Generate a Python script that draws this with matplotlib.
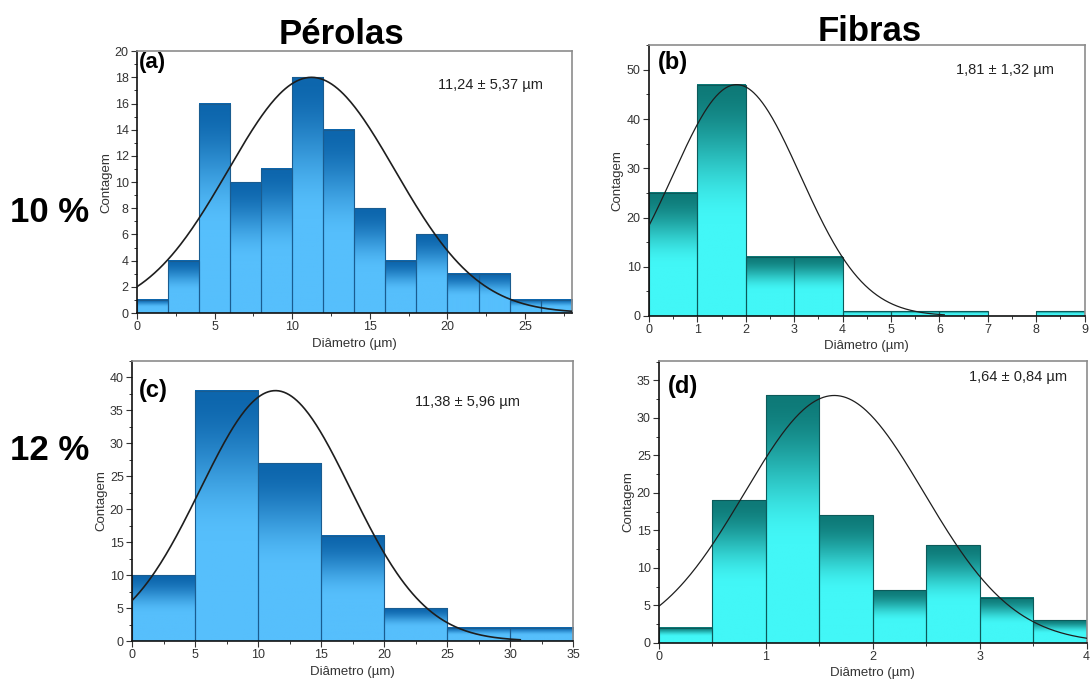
import numpy as np
import matplotlib
matplotlib.use("Agg")
import matplotlib.pyplot as plt
from matplotlib.ticker import MultipleLocator
from matplotlib.colors import to_rgb

plt.rcParams['font.family'] = ['Liberation Sans', 'DejaVu Sans']

# histogram data (diameter bins in um, counts)
edges_a = [0, 2, 4, 6, 8, 10, 12, 14, 16, 18, 20, 22, 24, 26, 28]
counts_a = [1, 4, 16, 10, 11, 18, 14, 8, 4, 6, 3, 3, 1, 1]
mean_a, sd_a = 11.24, 5.37

edges_b = [0, 1, 2, 3, 4, 5, 6, 7, 8, 9]
counts_b = [25, 47, 12, 12, 1, 1, 1, 0, 1]
mean_b, sd_b = 1.81, 1.32

edges_c = [0, 5, 10, 15, 20, 25, 30, 35]
counts_c = [10, 38, 27, 16, 5, 2, 2]
mean_c, sd_c = 11.38, 5.96

edges_d = [0, 0.5, 1.0, 1.5, 2.0, 2.5, 3.0, 3.5, 4.0]
counts_d = [2, 19, 33, 17, 7, 13, 6, 3]
mean_d, sd_d = 1.64, 0.84

fig = plt.figure(figsize=(10.92, 6.82), dpi=100)


def gradient_bars(ax, edges, counts, dark, light, edge):
    dark = np.array(to_rgb(dark))
    light = np.array(to_rgb(light))
    depth = np.linspace(0, 1, 200)
    t = np.clip(depth / 0.6, 0, 1)
    t = t * t * (3 - 2 * t)
    img = dark[None, :] * (1 - t[:, None]) + light[None, :] * t[:, None]
    img = np.repeat(img[:, None, :], 2, axis=1)
    for i in range(len(counts)):
        if counts[i] == 0:
            continue
        ax.imshow(img, extent=[edges[i], edges[i + 1], 0, counts[i]],
                  aspect='auto', origin='upper', zorder=1, interpolation='bilinear')
    widths = np.diff(edges)
    ax.bar(edges[:-1], counts, width=widths, align='edge', facecolor='none',
           edgecolor=edge, linewidth=0.8, zorder=2)


def gauss_curve(ax, mean, sd, peak, x_end, lw):
    x = np.linspace(0, x_end, 300)
    y = peak * np.exp(-(x - mean) ** 2 / (2 * sd ** 2))
    ax.plot(x, y, color='#1e1e1e', lw=lw, zorder=3)


def style_axes(ax, xlim, ylim, xmaj, ymaj):
    ax.set_xlim(xlim)
    ax.set_ylim(ylim)
    ax.xaxis.set_major_locator(MultipleLocator(xmaj))
    ax.xaxis.set_minor_locator(MultipleLocator(xmaj / 2))
    ax.yaxis.set_major_locator(MultipleLocator(ymaj))
    ax.yaxis.set_minor_locator(MultipleLocator(ymaj / 2))
    ax.tick_params(which='major', direction='out', length=4, width=0.8,
                   labelsize=9, pad=2, colors='#333333')
    ax.tick_params(which='minor', direction='out', length=2.5, width=0.7,
                   colors='#333333')
    for s in ['left', 'bottom']:
        ax.spines[s].set_color('#111111')
        ax.spines[s].set_linewidth(1.2)
    for s in ['top', 'right']:
        ax.spines[s].set_color('#8c8c8c')
        ax.spines[s].set_linewidth(1.2)
    ax.set_xlabel('Diâmetro (µm)', fontsize=9.5, color='#333333', labelpad=3)
    ax.set_ylabel('Contagem', fontsize=9.5, color='#333333', labelpad=2)


blue_dark, blue_light, blue_edge = '#0d66ad', '#56bffc', '#1a5c90'
teal_dark, teal_light, teal_edge = '#0e7a78', '#42f7f7', '#0c5a5a'

# (a) pérolas 10 %
ax = fig.add_axes([0.1255, 0.541, 0.398, 0.384])
gradient_bars(ax, edges_a, counts_a, blue_dark, blue_light, blue_edge)
gauss_curve(ax, mean_a, sd_a, max(counts_a), 28, 1.2)
style_axes(ax, (0, 28), (0, 20), 5, 2)
ax.text(0.005, 0.958, '(a)', transform=ax.transAxes, fontsize=16,
        fontweight='bold', va='center', ha='left')
ax.text(0.692, 0.87, '11,24 ± 5,37 µm', transform=ax.transAxes,
        fontsize=10.5, va='center', ha='left', color='#222222')

# (b) fibras 10 %
ax = fig.add_axes([0.5943, 0.5367, 0.399, 0.397])
gradient_bars(ax, edges_b, counts_b, teal_dark, teal_light, teal_edge)
gauss_curve(ax, mean_b, sd_b, max(counts_b), 6.1, 0.9)
style_axes(ax, (0, 9), (0, 55), 1, 10)
ax.text(0.02, 0.937, '(b)', transform=ax.transAxes, fontsize=17,
        fontweight='bold', va='center', ha='left')
ax.text(0.705, 0.908, '1,81 ± 1,32 µm', transform=ax.transAxes,
        fontsize=10.5, va='center', ha='left', color='#222222')

# (c) pérolas 12 %
ax = fig.add_axes([0.1209, 0.0601, 0.404, 0.4106])
gradient_bars(ax, edges_c, counts_c, blue_dark, blue_light, blue_edge)
gauss_curve(ax, mean_c, sd_c, max(counts_c), 30.8, 1.2)
style_axes(ax, (0, 35), (0, 42.5), 5, 5)
ax.text(0.016, 0.896, '(c)', transform=ax.transAxes, fontsize=17,
        fontweight='bold', va='center', ha='left')
ax.text(0.642, 0.854, '11,38 ± 5,96 µm', transform=ax.transAxes,
        fontsize=10.5, va='center', ha='left', color='#222222')

# (d) fibras 12 %
ax = fig.add_axes([0.6035, 0.0572, 0.3915, 0.4135])
gradient_bars(ax, edges_d, counts_d, teal_dark, teal_light, teal_edge)
gauss_curve(ax, mean_d, sd_d, max(counts_d), 4, 0.9)
style_axes(ax, (0, 4), (0, 37.6), 1, 5)
ax.text(0.02, 0.908, '(d)', transform=ax.transAxes, fontsize=17,
        fontweight='bold', va='center', ha='left')
ax.text(0.725, 0.943, '1,64 ± 0,84 µm', transform=ax.transAxes,
        fontsize=10.5, va='center', ha='left', color='#222222')

# column and row headings
fig.text(341 / 1092, 1 - 44 / 682, 'Pérolas', fontsize=25, fontweight='bold',
         ha='center', va='baseline')
fig.text(870 / 1092, 1 - 41 / 682, 'Fibras', fontsize=25, fontweight='bold',
         ha='center', va='baseline')
fig.text(50 / 1092, 1 - 213 / 682, '10 %', fontsize=25, fontweight='bold',
         ha='center', va='center')
fig.text(50 / 1092, 1 - 451 / 682, '12 %', fontsize=25, fontweight='bold',
         ha='center', va='center')

fig.savefig('out.png', dpi=100)
